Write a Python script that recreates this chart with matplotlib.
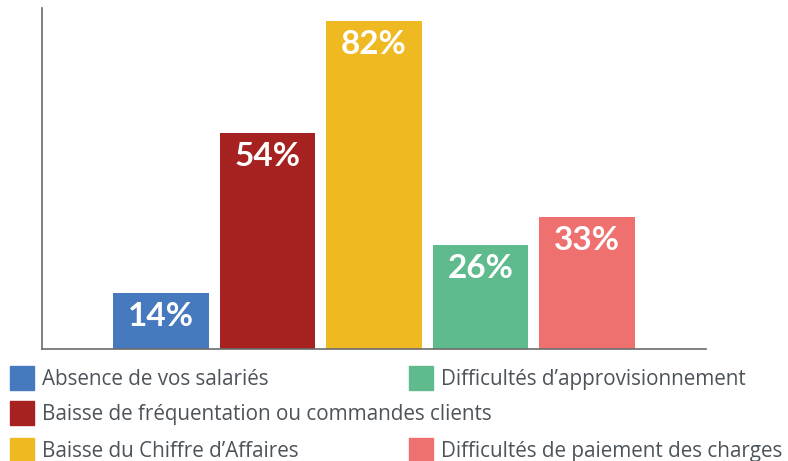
import matplotlib
matplotlib.use("Agg")
import matplotlib.pyplot as plt
from matplotlib.patches import Rectangle

categories = ["Absence de vos salariés",
              "Baisse de fréquentation ou commandes clients",
              "Baisse du Chiffre d\u2019Affaires",
              "Difficultés d\u2019approvisionnement",
              "Difficultés de paiement des charges"]
values = [14, 54, 82, 26, 33]
labels = ["14%", "54%", "82%", "26%", "33%"]
colors = ["#4779BE", "#A62220", "#EFB922", "#5FBB8E", "#EE7170"]

W, H = 788, 461
fig = plt.figure(figsize=(W / 100, H / 100), dpi=100)
ax = fig.add_axes([42 / W, (H - 349) / H, (706 - 42) / W, (349 - 8) / H])

x = list(range(len(values)))
bars = ax.bar(x, values, width=0.9, color=colors)
ax.set_xlim(-1.12, 5.12)
ax.set_ylim(0, 85.25)
for s in ["top", "right"]:
    ax.spines[s].set_visible(False)
for s in ["left", "bottom"]:
    ax.spines[s].set_color("#6b6b6b")
    ax.spines[s].set_linewidth(1.2)
ax.set_xticks([])
ax.set_yticks([])

for xi, v, lab in zip(x, values, labels):
    ax.annotate(lab, (xi, v), xytext=(0, -24), textcoords="offset pixels",
                ha="center", va="center", color="white", fontsize=24,
                fontweight="bold", family="Lato")

# legend (manual layout)
legend_pos = [(10, 378), (10, 413), (10, 450), (409, 378), (409, 450)]
for (lx, ly), cat, c in zip(legend_pos, categories, colors):
    fig.add_artist(Rectangle((lx / W, 1 - (ly + 12) / H), 24 / W, 24 / H,
                             transform=fig.transFigure, color=c))
    fig.text((lx + 32) / W, 1 - (ly + 1) / H, cat, ha="left", va="center",
             fontsize=14.9, color="#4d5459", family="Open Sans")

fig.savefig("out.png", dpi=100)
